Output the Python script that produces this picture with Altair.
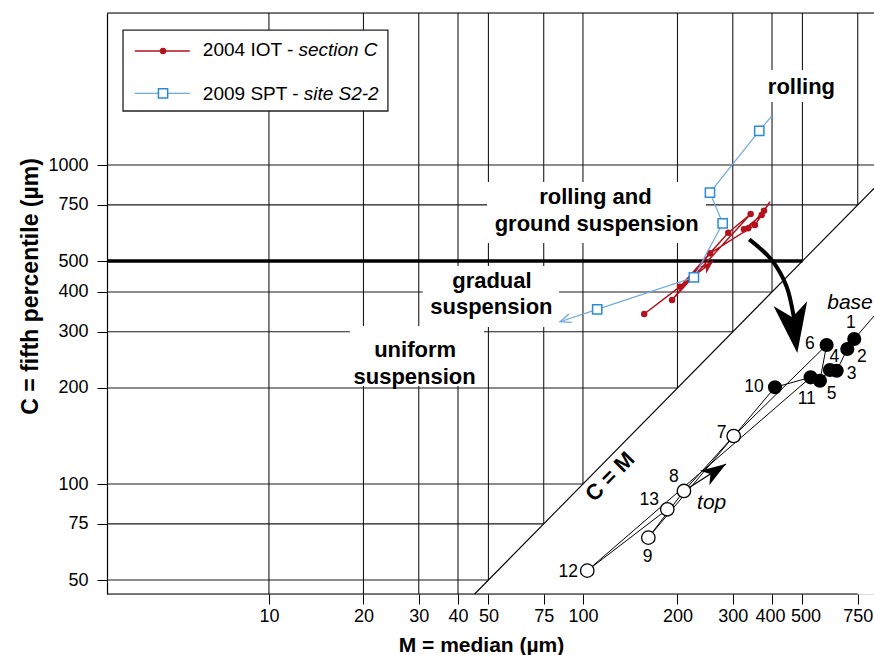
import altair as alt
import pandas as pd

# ---------------- axis ranges and ticks ----------------
M_MIN, M_MAX = 3.05, 845.0
C_MIN, C_MAX = 45.2, 2997.0
x_ticks = [10, 20, 30, 40, 50, 75, 100, 200, 300, 400, 500, 750]
y_ticks = [50, 75, 100, 200, 300, 400, 500, 750, 1000]

# ---------------- data series ----------------
# 2004 IOT - section C (order of the connecting line)
red_M = [156.7, 203.7, 290.2, 342.0, 192.2, 253.8, 353.0, 370.8, 325.6, 336.0, 377.1, 394.0]
red_C = [341.2, 415.5, 613.5, 702.2, 377.4, 528.7, 648.6, 697.1, 628.7, 633.3, 719.0, 767.0]
red_marker = [1, 1, 1, 1, 1, 1, 1, 1, 1, 1, 1, 0]

# 2009 SPT - site S2-2
blue_M = [399.0, 364.3, 253.8, 278.6, 225.6, 111.0, 84.5]
blue_C = [1424.0, 1279.0, 819.0, 656.7, 444.6, 352.8, 322.7]
blue_marker = [0, 1, 1, 1, 1, 1, 0]

# numbered samples 1..13 (base -> top)
black_id = ["1", "2", "3", "4", "5", "6", "7", "8", "9", "10", "11", "12", "13"]
black_M = [731.0, 694.7, 642.7, 611.6, 568.5, 597.0, 302.0, 209.7, 161.5, 408.8, 531.0, 103.2, 185.6]
black_C = [284.8, 265.0, 226.5, 227.8, 210.8, 272.8, 141.4, 95.1, 67.9, 201.0, 216.0, 53.5, 83.3]
black_filled = [1, 1, 1, 1, 1, 1, 0, 0, 0, 1, 1, 0, 0]
black_lab_M = [713.7, 773.7, 717.3, 631.5, 619.4, 528.4, 276.6, 194.9, 160.7, 350.4, 515.9, 89.8, 162.6]
black_lab_C = [320.4, 250.6, 221.3, 249.5, 191.5, 274.8, 144.2, 105.0, 59.2, 201.0, 184.7, 53.1, 89.1]
black_tail_M = [731.0, 845.0]
black_tail_C = [284.8, 336.3]

# region labels
region_text = ["rolling", "rolling and", "ground suspension", "gradual", "suspension", "uniform", "suspension"]
region_M = [496.4, 109.6, 110.6, 51.3, 51.1, 29.2, 29.1]
region_C = [1675.0, 754.6, 621.0, 413.0, 341.2, 250.0, 205.8]

# white boxes behind region labels
mask_M = [366.2, 49.5, 30.9, 18.1]
mask_M2 = [683.0, 246.5, 83.9, 48.4]
mask_C = [1985.0, 884.5, 482.5, 312.8]
mask_C2 = [1576.0, 569.6, 310.6, 202.9]

# arrows
curve_M = [338.5, 399.0, 445.4, 470.0, 476.9]
curve_C = [584.8, 503.8, 415.5, 331.4, 293.2]
top_shaft_M = [209.7, 285.4]
top_shaft_C = [95.1, 115.5]
red_shaft_M = [203.7, 260.0]
red_shaft_C = [415.5, 500.0]
head_M = [481.5, 285.4, 260.0]
head_C = [257.4, 115.5, 500.0]
head_angle = [172, 57, 48]
head_size = [2500, 650, 190]
head_color = ["black", "black", "#b3121d"]

# legend
leg_box_M, leg_box_M2, leg_box_C, leg_box_C2 = [3.43], [23.93], [2650.0], [1477.0]
leg_line_M = [3.74, 5.60]
leg_mark_M = 4.60
leg_red_C, leg_blue_C = 2277.0, 1677.0
leg_txt_M = 6.16
leg_txt = ["2004 IOT - ", "2009 SPT - "]
leg_txt_C = [2196.0, 1599.0]
leg_it = ["section C", "site S2-2"]
leg_it_M = [12.41, 12.90]

FONT = "Liberation Sans"
RED = "#b3121d"
BLUE_PT = "#2b8ad6"
BLUE_LN = "#6da8e0"
GRID = "#1a1a1a"

xs = alt.Scale(type="log", domain=[M_MIN, M_MAX], nice=False)
ys = alt.Scale(type="log", domain=[C_MIN, C_MAX], nice=False)

x_axis = alt.Axis(values=x_ticks, format="d", title="M = median (µm)", grid=False,
                  labelOffset={"condition": [{"test": "datum.value == 400", "value": -2},
                                             {"test": "datum.value == 500", "value": 3}],
                               "value": 0},
                  domain=False, tickSize=10, tickColor="black", tickWidth=1,
                  labelFont=FONT, labelFontSize=18, labelColor="black", labelPadding=3,
                  labelOverlap=False, labelFlush=False,
                  titleFont=FONT, titleFontSize=21, titleFontWeight="bold", titleColor="black",
                  titleX=374, titleY=57, titleAlign="center", titleBaseline="alphabetic")
y_axis = alt.Axis(values=y_ticks, format="d", title="C = fifth percentile (µm)", grid=False,
                  domain=True, domainColor="black", domainWidth=1.2,
                  tickSize=10, tickColor="black", tickWidth=1,
                  labelFont=FONT, labelFontSize=18, labelColor="black", labelPadding=9,
                  labelOverlap=False, labelFlush=False,
                  titleFont=FONT, titleFontSize=23, titleFontWeight="bold", titleColor="black",
                  titleAngle=270, titleX=-77, titleY=273, titleAlign="center",
                  titleBaseline="middle")


def X(f="M"):
    return alt.X(f"{f}:Q", scale=xs, axis=x_axis)


def Y(f="C"):
    return alt.Y(f"{f}:Q", scale=ys, axis=y_axis)


# ---------------- grid ----------------
vgrid = pd.DataFrame({"M": x_ticks,
                      "C": [max(m, C_MIN) for m in x_ticks],
                      "C2": [C_MAX] * len(x_ticks)})
hvals = [c for c in y_ticks if c != 500]
hgrid = pd.DataFrame({"C": hvals, "M": [M_MIN] * len(hvals),
                      "M2": [min(c, M_MAX) for c in hvals]})

l_vgrid = alt.Chart(vgrid).mark_rule(color=GRID, strokeWidth=1.1).encode(
    x=X(), y=Y(), y2="C2:Q")
l_hgrid = alt.Chart(hgrid).mark_rule(color=GRID, strokeWidth=1.1).encode(
    y=Y(), x=X(), x2="M2:Q")
l_500 = alt.Chart(pd.DataFrame({"C": [500], "M": [M_MIN], "M2": [500]})).mark_rule(
    color="black", strokeWidth=3.5).encode(y=Y(), x=X(), x2="M2:Q")
frame = pd.DataFrame({"C": [C_MAX, C_MIN], "M": [M_MIN, M_MIN], "M2": [M_MAX, 750]})
l_frame = alt.Chart(frame).mark_rule(color="black", strokeWidth=1.2).encode(
    y=Y(), x=X(), x2="M2:Q")

masks = pd.DataFrame({"M": mask_M, "M2": mask_M2, "C": mask_C, "C2": mask_C2})
l_mask = alt.Chart(masks).mark_rect(fill="white", opacity=1).encode(
    x=X(), x2="M2:Q", y=Y(), y2="C2:Q")

diag = pd.DataFrame({"M": [C_MIN, M_MAX], "C": [C_MIN, M_MAX]})
l_diag = alt.Chart(diag).mark_line(color="black", strokeWidth=1.1).encode(x=X(), y=Y())

# ---------------- arrows ----------------
curve = pd.DataFrame({"M": curve_M, "C": curve_C, "o": list(range(len(curve_M)))})
l_curve = alt.Chart(curve).mark_line(color="black", strokeWidth=4, interpolate="cardinal").encode(
    x=X(), y=Y(), order="o:Q")
l_topshaft = alt.Chart(pd.DataFrame({"M": top_shaft_M, "C": top_shaft_C})).mark_line(
    color="black", strokeWidth=1.3).encode(x=X(), y=Y())
l_redshaft = alt.Chart(pd.DataFrame({"M": red_shaft_M, "C": red_shaft_C})).mark_line(
    color=RED, strokeWidth=1.5).encode(x=X(), y=Y())
heads = pd.DataFrame({"M": head_M, "C": head_C, "a": head_angle, "s": head_size, "col": head_color})
ARROW = "M0,0 L0.68,2 L0,1.45 L-0.68,2 Z"
l_heads = alt.Chart(heads).mark_point(shape=ARROW, filled=True, opacity=1).encode(
    x=X(), y=Y(), angle=alt.Angle("a:Q", scale=None), size=alt.Size("s:Q", scale=None, legend=None),
    color=alt.Color("col:N", scale=None))
l_bluehead = alt.Chart(pd.DataFrame({"M": [blue_M[-1]], "C": [blue_C[-1]]})).mark_point(
    shape="M-0.8,2 L0,0 L0.8,2", filled=False, stroke=BLUE_LN, strokeWidth=1.3, size=120,
    angle=251.6, opacity=1).encode(x=X(), y=Y())

# ---------------- black sample series ----------------
black = pd.DataFrame({"M": black_M, "C": black_C, "o": list(range(13)), "id": black_id,
                      "f": black_filled, "LM": black_lab_M, "LC": black_lab_C})
l_bline = alt.Chart(black).mark_line(color="black", strokeWidth=1).encode(
    x=X(), y=Y(), order="o:Q")
l_btail = alt.Chart(pd.DataFrame({"M": black_tail_M, "C": black_tail_C})).mark_line(
    color="black", strokeWidth=1).encode(x=X(), y=Y())
l_bfill = alt.Chart(black).transform_filter("datum.f == 1").mark_point(
    shape="circle", filled=True, color="black", size=200, opacity=1).encode(x=X(), y=Y())
l_bopen = alt.Chart(black).transform_filter("datum.f == 0").mark_point(
    shape="circle", filled=True, fill="white", stroke="black", strokeWidth=1.3, size=180,
    opacity=1).encode(x=X(), y=Y())
l_blab = alt.Chart(black).mark_text(font=FONT, fontSize=17.5, color="black", align="center",
                                    baseline="middle").encode(
    x=X("LM"), y=Y("LC"), text="id:N")

# ---------------- red and blue series ----------------
red = pd.DataFrame({"M": red_M, "C": red_C, "o": list(range(len(red_M))), "mk": red_marker})
l_rline = alt.Chart(red).mark_line(color=RED, strokeWidth=1.5).encode(x=X(), y=Y(), order="o:Q")
l_rpts = alt.Chart(red).transform_filter("datum.mk == 1").mark_point(
    shape="circle", filled=True, color=RED, size=42, opacity=1).encode(x=X(), y=Y())

blue = pd.DataFrame({"M": blue_M, "C": blue_C, "o": list(range(len(blue_M))), "mk": blue_marker})
l_bluel = alt.Chart(blue).mark_line(color=BLUE_LN, strokeWidth=1.2).encode(x=X(), y=Y(), order="o:Q")
l_bluep = alt.Chart(blue).transform_filter("datum.mk == 1").mark_point(
    shape="square", filled=True, fill="white", stroke=BLUE_PT, strokeWidth=1.5, size=85,
    opacity=1).encode(x=X(), y=Y())

# ---------------- text ----------------
regions = pd.DataFrame({"M": region_M, "C": region_C, "t": region_text})
l_regions = alt.Chart(regions).mark_text(font=FONT, fontSize=22, fontWeight="bold", color="black",
                                         align="center", baseline="alphabetic").encode(
    x=X(), y=Y(), text="t:N")
ital = pd.DataFrame({"M": [708.6, 257.0], "C": [369.3, 87.0], "t": ["base", "top"]})
l_ital = alt.Chart(ital).mark_text(font=FONT, fontSize=21, fontStyle="italic", color="black",
                                   align="center", baseline="middle").encode(x=X(), y=Y(), text="t:N")
l_cm = alt.Chart(pd.DataFrame({"M": [121.9], "C": [105.4], "t": ["C = M"]})).mark_text(
    font=FONT, fontSize=22, fontWeight="bold", color="black", align="center", baseline="middle",
    angle=314.5).encode(x=X(), y=Y(), text="t:N")

# ---------------- legend ----------------
l_legbox = alt.Chart(pd.DataFrame({"M": leg_box_M, "M2": leg_box_M2, "C": leg_box_C,
                                   "C2": leg_box_C2})).mark_rect(
    fill="white", stroke="#222222", strokeWidth=1.3).encode(x=X(), x2="M2:Q", y=Y(), y2="C2:Q")
l_legred = alt.Chart(pd.DataFrame({"M": leg_line_M, "C": [leg_red_C] * 2})).mark_line(
    color=RED, strokeWidth=1.5).encode(x=X(), y=Y())
l_legblue = alt.Chart(pd.DataFrame({"M": leg_line_M, "C": [leg_blue_C] * 2})).mark_line(
    color=BLUE_LN, strokeWidth=1.2).encode(x=X(), y=Y())
l_legrpt = alt.Chart(pd.DataFrame({"M": [leg_mark_M], "C": [leg_red_C]})).mark_point(
    shape="circle", filled=True, color=RED, size=42, opacity=1).encode(x=X(), y=Y())
l_legbpt = alt.Chart(pd.DataFrame({"M": [leg_mark_M], "C": [leg_blue_C]})).mark_point(
    shape="square", filled=True, fill="white", stroke=BLUE_PT, strokeWidth=1.5, size=85,
    opacity=1).encode(x=X(), y=Y())
l_legtxt = alt.Chart(pd.DataFrame({"M": [leg_txt_M] * 2, "C": leg_txt_C, "t": leg_txt})).mark_text(
    font=FONT, fontSize=19, color="black", align="left", baseline="alphabetic").encode(
    x=X(), y=Y(), text="t:N")
l_legit = alt.Chart(pd.DataFrame({"M": leg_it_M, "C": leg_txt_C, "t": leg_it})).mark_text(
    font=FONT, fontSize=19, fontStyle="italic", color="black", align="left",
    baseline="alphabetic").encode(x=X(), y=Y(), text="t:N")

chart = alt.layer(
    l_vgrid, l_hgrid, l_500, l_frame, l_mask, l_diag,
    l_curve, l_topshaft, l_redshaft,
    l_bline, l_btail, l_rline, l_rpts, l_bluel, l_bluep, l_bfill, l_bopen,
    l_heads, l_bluehead,
    l_blab, l_regions, l_ital, l_cm,
    l_legbox, l_legred, l_legblue, l_legrpt, l_legbpt, l_legtxt, l_legit,
).properties(
    width=767, height=581,
    autosize=alt.AutoSizeParams(type="none"),
    padding={"left": 107, "top": 13, "right": 0, "bottom": 61},
).configure_view(stroke=None).configure(background="white")

chart.save("out.html", embed_options={"renderer": "svg", "actions": False})
